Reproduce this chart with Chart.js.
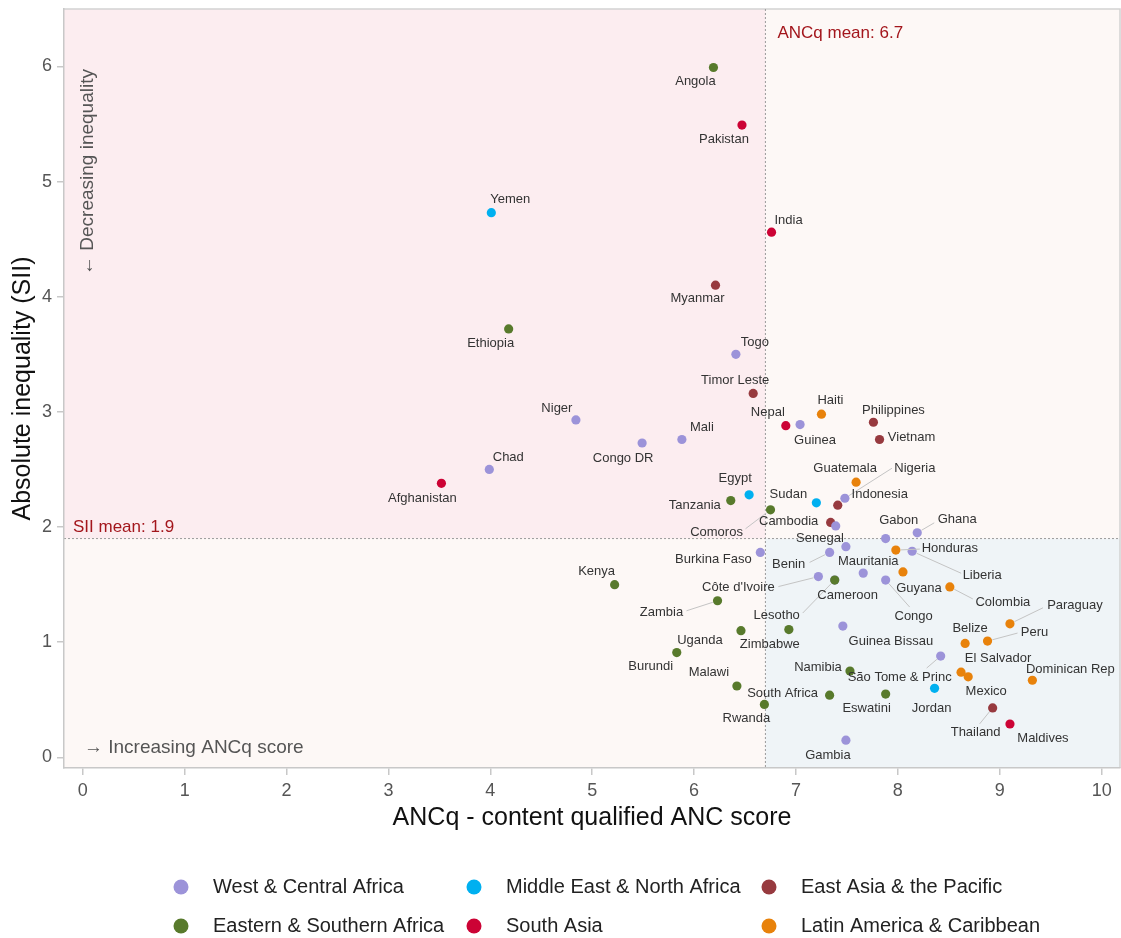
<!DOCTYPE html>
<html>
<head>
<meta charset="utf-8">
<script src="https://cdn.jsdelivr.net/npm/chart.js@4.4.1/dist/chart.umd.min.js"></script>
<style>
  html, body { margin: 0; padding: 0; background: #fff; overflow: hidden; }
  #wrap { width: 1121px; height: 938px; position: relative; }
  #grafiek { display: block; }
</style>
</head>
<body>
<div id="wrap"><canvas id="grafiek"></canvas></div>
<script>
// --- data ---
const regions = ['West & Central Africa', 'Middle East & North Africa', 'East Asia & the Pacific',
                 'Eastern & Southern Africa', 'South Asia', 'Latin America & Caribbean'];

const wcaCountries = ['Togo', 'Niger', 'Congo DR', 'Mali', 'Chad', 'Guinea', 'Nigeria', '', 'Senegal', 'Benin',
  'Burkina Faso', "Côte d'Ivoire", 'Mauritania', 'Gabon', 'Ghana', 'Liberia', 'Congo', 'Cameroon',
  'Guinea Bissau', 'São Tome & Princ', 'Gambia'];
const wcaAncq = [6.41, 4.84, 5.49, 5.88, 3.99, 7.04, 7.48, 7.39, 7.49, 7.33, 6.65, 7.22, 7.66, 7.88, 8.19, 8.14, 7.88, 7.38, 7.46, 8.42, 7.49];
const wcaSii  = [3.50, 2.93, 2.73, 2.76, 2.50, 2.89, 2.25, 2.01, 1.83, 1.78, 1.78, 1.57, 1.60, 1.90, 1.95, 1.79, 1.54, 1.54, 1.14, 0.88, 0.15];

const menaCountries = ['Yemen', 'Egypt', 'Sudan', 'Jordan'];
const menaAncq = [4.01, 6.54, 7.20, 8.36];
const menaSii  = [4.73, 2.28, 2.21, 0.60];

const eapCountries = ['Myanmar', 'Timor Leste', 'Philippines', 'Vietnam', 'Indonesia', 'Cambodia', 'Thailand'];
const eapAncq = [6.21, 6.58, 7.76, 7.82, 7.41, 7.34, 8.93];
const eapSii  = [4.10, 3.16, 2.91, 2.76, 2.19, 2.04, 0.43];

const esaCountries = ['Angola', 'Ethiopia', 'Kenya', 'Tanzania', 'Comoros', 'Zambia', 'Lesotho', 'Uganda',
  'Zimbabwe', 'Burundi', 'Malawi', 'Rwanda', 'South Africa', 'Namibia', 'Eswatini'];
const esaAncq = [6.19, 4.18, 5.22, 6.36, 6.75, 6.23, 7.38, 6.46, 6.93, 5.83, 6.42, 6.69, 7.33, 7.53, 7.88];
const esaSii  = [5.99, 3.72, 1.50, 2.23, 2.15, 1.36, 1.54, 1.10, 1.11, 0.91, 0.62, 0.46, 0.54, 0.75, 0.55];

const saCountries = ['Pakistan', 'India', 'Afghanistan', 'Nepal', 'Maldives'];
const saAncq = [6.47, 6.76, 3.52, 6.90, 9.10];
const saSii  = [5.49, 4.56, 2.38, 2.88, 0.29];

const lacCountries = ['Haiti', 'Guatemala', 'Honduras', 'Guyana', 'Colombia', 'Paraguay', 'Peru', 'Belize',
  'El Salvador', 'Mexico', 'Dominican Rep'];
const lacAncq = [7.25, 7.59, 7.98, 8.05, 8.51, 9.10, 8.88, 8.66, 8.62, 8.69, 9.32];
const lacSii  = [2.98, 2.39, 1.80, 1.61, 1.48, 1.16, 1.01, 0.99, 0.74, 0.70, 0.67];

const xTicks = [0, 1, 2, 3, 4, 5, 6, 7, 8, 9, 10];
const yTicks = [0, 1, 2, 3, 4, 5, 6];
const ancqMean = 6.7;
const siiMean = 1.9;

// --- styling ---
const kleuren = ['#9c93d9', '#00b0f0', '#973a3f', '#587a2c', '#cc0335', '#e8820b'];
const font = '"Liberation Sans", Arial, sans-serif';

// label placement (pixel offset of label centre from the dot)
const labelPos = {
  'Togo': [19, -12], 'Niger': [-19, -12], 'Congo DR': [-19, 15], 'Mali': [20, -12], 'Chad': [19, -12],
  'Guinea': [15, 16], 'Nigeria': [70, -30], 'Senegal': [-26, -8], 'Benin': [-41, 12], 'Burkina Faso': [-47, 7],
  "Côte d'Ivoire": [-80, 11], 'Mauritania': [5, -12], 'Gabon': [13, -18], 'Ghana': [40, -13],
  'Liberia': [70, 24], 'Congo': [28, 36], 'Cameroon': [13, 15], 'Guinea Bissau': [48, 15],
  'São Tome & Princ': [-41, 21], 'Gambia': [-18, 15],
  'Yemen': [19, -13], 'Egypt': [-14, -16], 'Sudan': [-28, -8], 'Jordan': [-3, 20],
  'Myanmar': [-18, 13], 'Timor Leste': [-18, -13], 'Philippines': [20, -12], 'Vietnam': [32, -2],
  'Indonesia': [42, -11], 'Cambodia': [-42, -1], 'Thailand': [-17, 25],
  'Angola': [-18, 14], 'Ethiopia': [-18, 14], 'Kenya': [-18, -13], 'Tanzania': [-36, 5], 'Comoros': [-54, 23],
  'Zambia': [-56, 12], 'Lesotho': [-58, 35], 'Uganda': [-41, 10], 'Zimbabwe': [-19, 15], 'Burundi': [-26, 14],
  'Malawi': [-28, -14], 'Rwanda': [-18, 14], 'South Africa': [-47, -2], 'Namibia': [-32, -4], 'Eswatini': [-19, 14],
  'Pakistan': [-18, 14], 'India': [17, -12], 'Afghanistan': [-19, 15], 'Nepal': [-18, -13], 'Maldives': [33, 14],
  'Haiti': [9, -14], 'Guatemala': [-11, -14], 'Honduras': [54, -2], 'Guyana': [16, 16], 'Colombia': [53, 15],
  'Paraguay': [65, -18], 'Peru': [47, -9], 'Belize': [5, -15], 'El Salvador': [37, -14], 'Mexico': [18, 15],
  'Dominican Rep': [38, -11]
};
// start of the thin connector line (offset from the dot)
const leaderStart = {
  'Nigeria': [47, -30], 'Benin': [-20, 10], "Côte d'Ivoire": [-40, 10], 'Ghana': [17, -10], 'Liberia': [49, 22],
  'Congo': [24, 27], 'São Tome & Princ': [-14, 12], 'Thailand': [-13, 16], 'Comoros': [-25, 19],
  'Zambia': [-31, 10], 'Lesotho': [-32, 33], 'Honduras': [24, -1], 'Colombia': [23, 12], 'Paraguay': [33, -16],
  'Peru': [30, -8]
};

function punten(namen, xs, ys) {
  return namen.map((n, i) => ({ x: xs[i], y: ys[i], name: n }));
}

const reeksen = [
  punten(wcaCountries, wcaAncq, wcaSii),
  punten(menaCountries, menaAncq, menaSii),
  punten(eapCountries, eapAncq, eapSii),
  punten(esaCountries, esaAncq, esaSii),
  punten(saCountries, saAncq, saSii),
  punten(lacCountries, lacAncq, lacSii)
];

const datasets = reeksen.map((d, i) => ({
  label: regions[i],
  data: d,
  backgroundColor: kleuren[i],
  borderWidth: 0,
  pointRadius: 4.6,
  pointHoverRadius: 4.6,
  order: i === 3 ? 0 : 1
}));

// quadrants, mean lines and annotations
const achtergrond = {
  id: 'achtergrond',
  beforeDraw(chart) {
    const { ctx, chartArea: a, scales: { x, y } } = chart;
    const mx = x.getPixelForValue(ancqMean);
    const my = y.getPixelForValue(siiMean);
    ctx.save();
    ctx.fillStyle = '#fdf8f6';
    ctx.fillRect(a.left, a.top, a.right - a.left, a.bottom - a.top);
    ctx.fillStyle = '#fcedf0';
    ctx.fillRect(a.left, a.top, mx - a.left, my - a.top);
    ctx.fillStyle = '#eff4f7';
    ctx.fillRect(mx, my, a.right - mx, a.bottom - my);

    ctx.strokeStyle = '#d2d2d2';
    ctx.lineWidth = 1.5;
    ctx.beginPath();
    ctx.moveTo(a.left, a.top); ctx.lineTo(a.right, a.top); ctx.lineTo(a.right, a.bottom);
    ctx.stroke();

    ctx.strokeStyle = '#9a9a9a';
    ctx.lineWidth = 1;
    ctx.setLineDash([2, 2]);
    ctx.beginPath();
    ctx.moveTo(mx, a.top); ctx.lineTo(mx, a.bottom);
    ctx.moveTo(a.left, my); ctx.lineTo(a.right, my);
    ctx.stroke();
    ctx.setLineDash([]);

    ctx.fillStyle = '#a3161c';
    ctx.font = '17px ' + font;
    ctx.textBaseline = 'middle';
    ctx.textAlign = 'left';
    ctx.fillText('ANCq mean: ' + ancqMean, mx + 12, a.top + 24);
    ctx.fillText('SII mean: ' + siiMean, a.left + 9, my - 11);

    ctx.fillStyle = '#555';
    ctx.font = '19px ' + font;
    ctx.fillText('\u2192 Increasing ANCq score', a.left + 20, a.bottom - 20);
    ctx.translate(a.left + 24, a.top + 266);
    ctx.rotate(-Math.PI / 2);
    ctx.fillText('\u2190 Decreasing inequality', 0, 0);
    ctx.restore();
  }
};

const landLabels = {
  id: 'landLabels',
  afterDatasetsDraw(chart) {
    const ctx = chart.ctx;
    ctx.save();
    const items = [];
    chart.data.datasets.forEach((ds, di) => {
      const meta = chart.getDatasetMeta(di);
      meta.data.forEach((pt, j) => {
        const naam = ds.data[j].name;
        if (!naam || !labelPos[naam]) return;
        items.push({ naam, px: pt.x, py: pt.y });
      });
    });
    ctx.strokeStyle = '#c4c4c4';
    ctx.lineWidth = 1;
    items.forEach(it => {
      const s = leaderStart[it.naam];
      if (!s) return;
      const len = Math.hypot(s[0], s[1]);
      const ex = it.px + s[0] / len * 5;
      const ey = it.py + s[1] / len * 5;
      ctx.beginPath();
      ctx.moveTo(it.px + s[0], it.py + s[1]);
      ctx.lineTo(ex, ey);
      ctx.stroke();
    });
    ctx.fillStyle = '#333';
    ctx.font = '13px ' + font;
    ctx.textAlign = 'center';
    ctx.textBaseline = 'middle';
    items.forEach(it => {
      const o = labelPos[it.naam];
      ctx.fillText(it.naam, it.px + o[0], it.py + o[1]);
    });
    ctx.restore();
  }
};

const legendaOnder = {
  id: 'legendaOnder',
  afterDraw(chart) {
    const ctx = chart.ctx;
    const kolomX = [181, 474, 769];
    const rijY = [887, 926];
    ctx.save();
    ctx.font = '20px ' + font;
    ctx.textBaseline = 'middle';
    ctx.textAlign = 'left';
    chart.data.datasets.forEach((ds, i) => {
      const cx = kolomX[i % 3];
      const cy = rijY[Math.floor(i / 3)];
      ctx.fillStyle = ds.backgroundColor;
      ctx.beginPath();
      ctx.arc(cx, cy, 7.5, 0, Math.PI * 2);
      ctx.fill();
      ctx.fillStyle = '#222';
      ctx.fillText(ds.label, cx + 32, cy);
    });
    ctx.restore();
  }
};

const ctx = document.getElementById('grafiek').getContext('2d');

new Chart(ctx, {
  type: 'scatter',
  data: { datasets: datasets },
  options: {
    responsive: true,
    maintainAspectRatio: false,
    animation: false,
    layout: { autoPadding: false, padding: { top: 9, right: 1, bottom: 100, left: 0 } },
    plugins: {
      legend: { display: false },
      tooltip: { enabled: false }
    },
    scales: {
      x: {
        type: 'linear',
        min: -0.184,
        max: 10.18,
        afterFit: s => { s.height = 70; s.paddingLeft = 0; s.paddingRight = 0; },
        afterBuildTicks: s => { s.ticks = xTicks.map(v => ({ value: v })); },
        grid: { drawOnChartArea: false, color: '#c8c8c8', tickLength: 7, lineWidth: 1.5 },
        border: { color: '#c8c8c8', width: 1.5 },
        ticks: { color: '#555', padding: 5, font: { family: font, size: 18 } },
        title: {
          display: true,
          text: 'ANCq - content qualified ANC score',
          color: '#111',
          font: { family: font, size: 25 },
          padding: { top: 0, bottom: 5 }
        }
      },
      y: {
        type: 'linear',
        min: -0.092,
        max: 6.498,
        afterFit: s => { s.width = 64; s.paddingTop = 0; s.paddingBottom = 0; },
        afterBuildTicks: s => { s.ticks = yTicks.map(v => ({ value: v })); },
        grid: { drawOnChartArea: false, color: '#c8c8c8', tickLength: 7, lineWidth: 1.5 },
        border: { color: '#c8c8c8', width: 1.5 },
        ticks: { color: '#555', padding: 5, font: { family: font, size: 18 } },
        title: {
          display: true,
          text: 'Absolute inequality (SII)',
          color: '#111',
          font: { family: font, size: 25 },
          padding: { top: 8, bottom: 0 }
        }
      }
    }
  },
  plugins: [achtergrond, landLabels, legendaOnder]
});
</script>
</body>
</html>
